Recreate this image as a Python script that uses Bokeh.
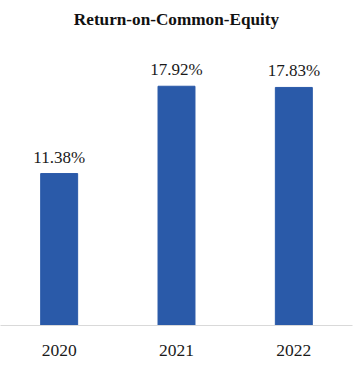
from bokeh.plotting import figure
from bokeh.models import ColumnDataSource, FactorRange, Range1d, LabelSet
from bokeh.embed import file_html
from bokeh.resources import INLINE

title = "Return-on-Common-Equity"
years = ["2020", "2021", "2022"]
roe = [11.38, 17.92, 17.83]
labels = ["11.38%", "17.92%", "17.83%"]

src = ColumnDataSource(dict(year=years, roe=roe, label=labels))

p = figure(x_range=FactorRange(*years, range_padding=0), y_range=Range1d(0, 21.87),
           width=356, height=366, output_backend="svg", toolbar_location=None,
           min_border_left=0, min_border_right=4, min_border_top=33, min_border_bottom=41,
           title=title)
p.title.text_font = "Liberation Serif"
p.title.text_font_style = "bold"
p.title.text_font_size = "17.2px"
p.title.align = "center"
p.title.text_color = "#111111"

p.vbar(x="year", top="roe", width=0.315, source=src, color="#2a5aa9")

p.add_layout(LabelSet(x="year", y="roe", text="label", source=src, y_offset=11,
                      text_align="center", text_baseline="alphabetic",
                      text_font="Liberation Serif", text_font_size="17px",
                      text_color="#1a1a1a"))

p.yaxis.visible = False
p.xgrid.grid_line_color = None
p.ygrid.grid_line_color = None
p.outline_line_color = None
p.xaxis.axis_line_color = "#d9d9d9"
p.xaxis.axis_line_width = 1
p.xaxis.major_tick_line_color = None
p.xaxis.minor_tick_line_color = None
p.xaxis.major_label_standoff = 13
p.xaxis.major_label_text_font = "Liberation Serif"
p.xaxis.major_label_text_font_size = "17.5px"
p.xaxis.major_label_text_color = "#1a1a1a"

open("out.html", "w").write(file_html(p, INLINE))
